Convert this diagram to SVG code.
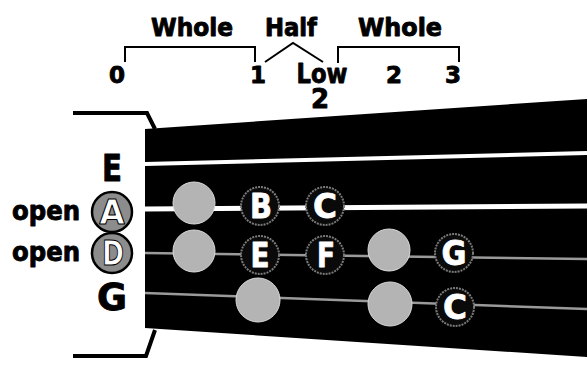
<svg xmlns="http://www.w3.org/2000/svg" width="587" height="370" viewBox="0 0 587 370">
<style>
  text { font-family: "DejaVu Sans", "Liberation Sans", sans-serif; font-weight: bold; fill: #000; stroke: #000; stroke-width: 0.9; stroke-linejoin: round; }
  .top { font-size: 24px; text-anchor: middle; }
  .num { font-size: 23px; text-anchor: middle; }
  .low { font-size: 27px; text-anchor: middle; }
  .low2 { font-size: 26px; text-anchor: middle; }
  .side { font-size: 38px; text-anchor: middle; }
  .open { font-size: 26px; }
  .brk { fill: none; stroke: #000; stroke-width: 2; }
  .holder { fill: none; stroke: #000; stroke-width: 4; stroke-linejoin: miter; }
  .finger { fill: #b4b4b4; stroke: #d8d8d8; stroke-width: 1; }
  .note { fill: #0a0a0a; stroke: #7a7a7a; stroke-width: 2; stroke-dasharray: 2 1; }
  .notetxt { font-size: 33px; text-anchor: middle; fill: #fff; stroke: #fff; stroke-width: 0.8; }
  .opencirc { fill: #8c8c8c; stroke: #000; stroke-width: 2.5; }
  .opentxt { font-size: 33px; text-anchor: middle; fill: #fff; stroke: #000; stroke-width: 1; }
  .wstr { stroke: #fff; fill: none; }
  .gstr { stroke: #9a9a9a; stroke-width: 2.5; fill: none; }
</style>

<g id="scale-labels">
  <text class="top" x="192" y="36" textLength="82" lengthAdjust="spacingAndGlyphs">Whole</text>
  <text class="top" x="291" y="36" textLength="52" lengthAdjust="spacingAndGlyphs">Half</text>
  <text class="top" x="400" y="36" textLength="84" lengthAdjust="spacingAndGlyphs">Whole</text>
  <polyline class="brk" points="125,62 125,47 255,47 255,62"/>
  <polyline class="brk" points="265,62 293,43 323,62"/>
  <polyline class="brk" points="338,63 338,47 459,47 459,62"/>
  <text class="num" x="117" y="83">0</text>
  <text class="num" x="258" y="83">1</text>
  <text class="low" x="322" y="83" textLength="51" lengthAdjust="spacingAndGlyphs">Low</text>
  <text class="low2" x="320" y="108">2</text>
  <text class="num" x="394" y="83">2</text>
  <text class="num" x="453" y="83">3</text>
</g>

<g id="fingerboard">
  <polygon points="145,129 587,99 587,357 145,328" fill="#000"/>
  <polyline class="holder" points="73,113 147,113 155,129"/>
  <polyline class="holder" points="73,356 146,356 155,330"/>
</g>

<g id="strings">
  <line class="wstr" x1="145" y1="164" x2="587" y2="153" stroke-width="4"/>
  <line class="wstr" x1="145" y1="209" x2="587" y2="206" stroke-width="5"/>
  <line class="gstr" x1="145" y1="253" x2="587" y2="259"/>
  <line class="gstr" x1="145" y1="293" x2="587" y2="309"/>
</g>

<g id="string-labels">
  <text class="side" x="112" y="181" textLength="20" lengthAdjust="spacingAndGlyphs">E</text>
  <text class="open" x="12" y="220" textLength="68" lengthAdjust="spacingAndGlyphs">open</text>
  <g id="open-A">
    <circle class="opencirc" cx="112" cy="212" r="20"/>
    <text class="opentxt" x="112" y="224">A</text>
  </g>
  <text class="open" x="12" y="261" textLength="68" lengthAdjust="spacingAndGlyphs">open</text>
  <g id="open-D">
    <circle class="opencirc" cx="112" cy="253" r="20"/>
    <text class="opentxt" x="113" y="265" textLength="22" lengthAdjust="spacingAndGlyphs">D</text>
  </g>
  <text class="side" x="112" y="310" textLength="30" lengthAdjust="spacingAndGlyphs">G</text>
</g>

<g id="fingers">
  <circle class="finger" cx="194" cy="203" r="21"/>
  <circle class="finger" cx="194" cy="251" r="21"/>
  <circle class="finger" cx="389" cy="250" r="21"/>
  <circle class="finger" cx="258" cy="300" r="22"/>
  <circle class="finger" cx="390" cy="304" r="22"/>
</g>

<g id="notes">
  <g id="note-B"><circle class="note" cx="260" cy="206" r="19"/><text class="notetxt" x="261" y="218" textLength="22" lengthAdjust="spacingAndGlyphs">B</text></g>
  <g id="note-C1"><circle class="note" cx="325" cy="206" r="19"/><text class="notetxt" x="325" y="218" textLength="24" lengthAdjust="spacingAndGlyphs">C</text></g>
  <g id="note-E"><circle class="note" cx="260" cy="255" r="19"/><text class="notetxt" x="260" y="267" textLength="19" lengthAdjust="spacingAndGlyphs">E</text></g>
  <g id="note-F"><circle class="note" cx="325" cy="255" r="19"/><text class="notetxt" x="326" y="267" textLength="18" lengthAdjust="spacingAndGlyphs">F</text></g>
  <g id="note-G"><circle class="note" cx="454" cy="253" r="19"/><text class="notetxt" x="454" y="265" textLength="25" lengthAdjust="spacingAndGlyphs">G</text></g>
  <g id="note-C2"><circle class="note" cx="455" cy="307" r="19"/><text class="notetxt" x="455" y="319" textLength="24" lengthAdjust="spacingAndGlyphs">C</text></g>
</g>
</svg>
